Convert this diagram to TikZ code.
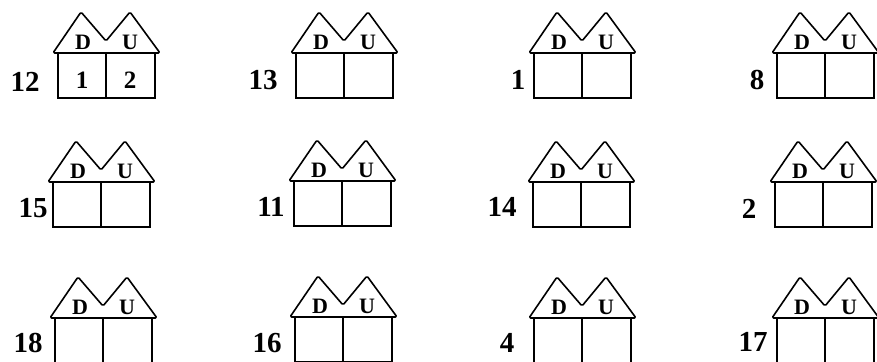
\documentclass[tikz,border=0pt]{standalone}
\usepackage{fontspec}
\setmainfont{Liberation Serif}

\tikzset{
  roofline/.style={line width=1.6pt, line join=round, rounded corners=1.5pt},
  wall/.style={line width=1.6pt},
  letter/.style={font=\fontsize{22}{22}\selectfont\bfseries, inner sep=0pt},
  housenum/.style={font=\fontsize{29}{29}\selectfont\bfseries, inner sep=0pt},
  digit/.style={font=\fontsize{25}{25}\selectfont\bfseries, inner sep=0pt},
  pics/house/.style={code={
    \draw[roofline] (-5,0) -- (23,-41) -- (48,-12) -- (72,-41) -- (102,0) -- cycle;
    \draw[wall] (0,0) rectangle (97,45);
    \draw[wall] (48,0) -- (48,45);
    \node[letter] (-d) at (25,-11) {D};
    \node[letter] (-u) at (72,-11) {U};
  }}
}

\begin{document}
\begin{tikzpicture}[x=1pt,y=-1pt]
  \useasboundingbox (0,0) rectangle (877,361);
  \clip (0,0) rectangle (877,361);

  % houses: box left, roof base, number, number position
  \foreach \hx/\hy/\n/\lx/\ly in {
      58/53/12/25/82, 296/53/13/263/80, 534/53/1/518/80, 777/53/8/757/80,
      53/182/15/33/208, 294/181/11/271/207, 533/182/14/502/207, 775/182/2/749/209,
      55/318/18/28/343, 295/317/16/267/343, 534/318/4/507/343, 777/318/17/753/342}
  {
    \pic (h\n) at (\hx,\hy) {house};
    \node[housenum] (n\n) at (\lx,\ly) {\n};
  }

  % filled in example
  \node[digit] (ex-d) at (82,80) {1};
  \node[digit] (ex-u) at (130,80) {2};
\end{tikzpicture}
\end{document}
